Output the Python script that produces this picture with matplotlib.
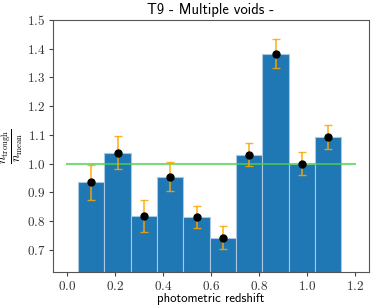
import matplotlib
matplotlib.use("Agg")
import matplotlib.pyplot as plt
from matplotlib.ticker import FuncFormatter
import numpy as np

plt.rcParams['mathtext.fontset'] = 'cm'

z_centers = [0.10, 0.21, 0.32, 0.43, 0.54, 0.65, 0.76, 0.87, 0.98, 1.09]
ratio = [0.935, 1.038, 0.817, 0.955, 0.813, 0.743, 1.031, 1.382, 1.000, 1.093]
ratio_err = [0.061, 0.058, 0.055, 0.050, 0.038, 0.040, 0.040, 0.050, 0.040, 0.043]
bin_width = 0.11
ref_x = [0.0, 1.2]
ref_y = [1.0, 1.0]
title = "T9 - Multiple voids -"
xlabel = "photometric redshift"

fig = plt.figure(figsize=(3.74, 3.07), dpi=100)
ax = fig.add_axes([0.1417, 0.114, 0.845, 0.821])

ax.bar(z_centers, ratio, width=bin_width, color='#1f77b4',
       edgecolor='#a9c8e4', linewidth=0.8, zorder=1)
ax.plot(ref_x, ref_y, color='#4cd04c', alpha=0.75, lw=1.5, zorder=2)
ax.errorbar(z_centers, ratio, yerr=ratio_err, fmt='none', ecolor='orange',
            alpha=0.85, capsize=3, elinewidth=1.2, capthick=1.0, zorder=3)
ax.plot(z_centers, ratio, 'o', color='black', markersize=5, zorder=4)

ax.set_ylim(0.623, 1.5)
ax.set_xticks([0.0, 0.2, 0.4, 0.6, 0.8, 1.0, 1.2])
ax.set_yticks([0.7, 0.8, 0.9, 1.0, 1.1, 1.2, 1.3, 1.4, 1.5])
fmt = FuncFormatter(lambda v, p: r'$%.1f$' % v)
ax.xaxis.set_major_formatter(fmt)
ax.yaxis.set_major_formatter(fmt)
ax.tick_params(labelsize=9.5, colors='#444444', labelcolor='#333333', length=3, pad=2.5)
for s in ax.spines.values():
    s.set_color('#555555')

t = ax.set_title(title, fontfamily='cmss10', fontsize=10.6, pad=4)
xl = ax.set_xlabel(xlabel, fontfamily='cmss10', fontsize=9.5, labelpad=0.5)
yl = ax.set_ylabel(r'$\dfrac{n_{\rm trough}}{n_{\rm mean}}$', fontsize=10)

# fit text sizes to the reference layout
fig.canvas.draw()
r = fig.canvas.get_renderer()
for txt, target in ((t, 127.0), (xl, 108.0)):
    w = txt.get_window_extent(r).width
    txt.set_fontsize(txt.get_fontsize() * target / w)
h = yl.get_window_extent(r).height
yl.set_fontsize(yl.get_fontsize() * 35.0 / h)
ax.yaxis.set_label_coords(-0.088, 0.5)

fig.savefig('out.png', dpi=100)
